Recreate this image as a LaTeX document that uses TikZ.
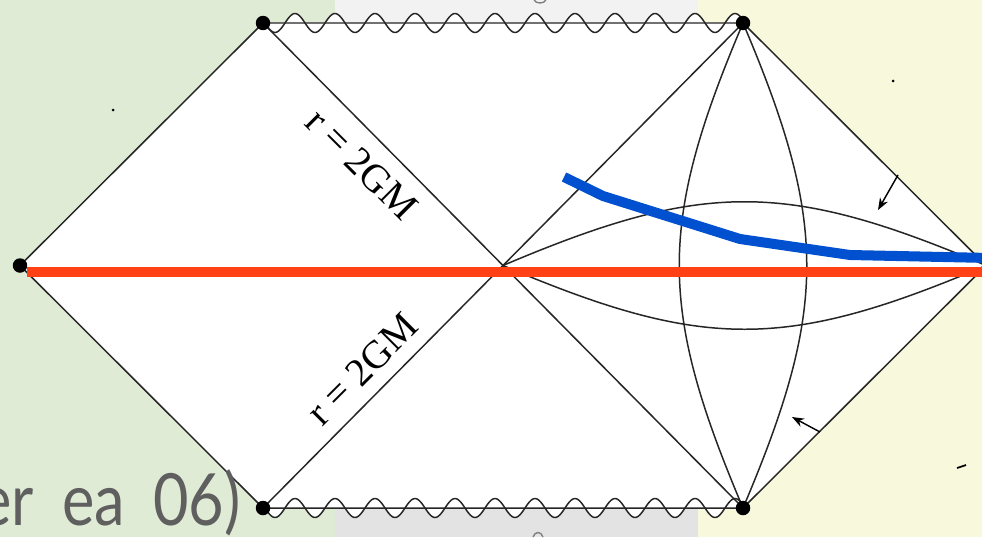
\documentclass[tikz,border=0pt]{standalone}
\usepackage{xcolor}
\usepackage{fontspec}
\setmainfont{Liberation Serif}
\newfontfamily\slidefont[FakeStretch=0.85, WordSpace=1.8]{Lato}
\usetikzlibrary{arrows.meta}

\definecolor{latarhijau}{HTML}{E0EBD5}
\definecolor{latarkuning}{HTML}{F8F8DC}
\definecolor{latarabu}{HTML}{F2F2F2}
\definecolor{latarabugelap}{HTML}{E3E3E3}
\definecolor{tekskutip}{HTML}{5F5F5F}
\definecolor{merah}{HTML}{FF4115}
\definecolor{biru}{HTML}{0050D0}

\begin{document}
\begin{tikzpicture}[
    x=0.02cm, y=-0.02cm,
    garis/.style={line width=0.85pt, black!85},
    gelombang/.style={garis, domain=263:743, samples=300},
    titik/.style={circle, fill=black, inner sep=0pt, minimum size=0.29cm},
    tanda/.style={font=\fontsize{22.5}{22.5}\selectfont, inner sep=0pt},
    kutip/.style={font=\slidefont\fontsize{41}{41}\selectfont, text=tekskutip, inner sep=0pt},
    panah/.style={-{Stealth[length=2.4mm, width=1.8mm]}, line width=0.8pt}
  ]
    \useasboundingbox (0,0) rectangle (982,537);
    \clip (0,0) rectangle (982,537);

    % slide background
    \fill[latarhijau] (0,0) rectangle (335,537);
    \fill[latarabu] (335,0) rectangle (698,268);
    \fill[latarabugelap] (335,268) rectangle (698,537);
    \fill[latarkuning] (698,0) rectangle (982,537);

    \coordinate (kiri) at (20,265.5);
    \coordinate (atasKiri) at (263,23);
    \coordinate (atasKanan) at (743,23);
    \coordinate (bawahKiri) at (263,508);
    \coordinate (bawahKanan) at (743,508);
    \coordinate (kanan) at (986,265.5);
    \coordinate (tengah) at (503,265.5);

    \fill[white] (kiri) -- (atasKiri) -- (atasKanan) -- (kanan) -- (bawahKanan) -- (bawahKiri) -- cycle;
    \fill[white] (atasKiri) -- plot[domain=263:743, samples=300] (\x, {23 - 9.5*sin(9*(\x-285))}) -- (atasKanan) -- cycle;
    \fill[white] (bawahKiri) -- plot[domain=263:743, samples=300] (\x, {508 - 9.5*sin(9*(\x-285))}) -- (bawahKanan) -- cycle;

    % outline and horizons
    \draw[garis] (kiri) -- (atasKiri) -- (atasKanan) -- (kanan) -- (bawahKanan) -- (bawahKiri) -- cycle;
    \draw[garis] (atasKiri) -- (bawahKanan);
    \draw[garis] (bawahKiri) -- (atasKanan);
    \draw[gelombang] plot (\x, {23 - 9.5*sin(9*(\x-285))});
    \draw[gelombang] plot (\x, {508 - 9.5*sin(9*(\x-285))});

    % lens in the right wedge
    \draw[garis] (tengah) .. controls (703,180.5) and (786,180.5) .. (kanan);
    \draw[garis] (tengah) .. controls (703,350.5) and (786,350.5) .. (kanan);
    \draw[garis] (atasKanan) .. controls (658,223) and (658,308) .. (bawahKanan);
    \draw[garis] (atasKanan) .. controls (828,223) and (828,308) .. (bawahKanan);

    \coordinate (pangkalA) at (898,175);
    \coordinate (ujungA) at (878,210);
    \coordinate (pangkalB) at (820,432);
    \coordinate (ujungB) at (792,417);
    \draw[panah] (pangkalA) -- (ujungA);
    \draw[panah] (pangkalB) -- (ujungB);

    \node[tanda, rotate=-45] (horizonAtas) at (362,164) {r = 2GM};
    \node[tanda, rotate=45] (horizonBawah) at (362,369) {r = 2GM};

    % overlays
    \draw[merah, line width=5.7pt] (27,272) -- (990,272);
    \draw[biru, line width=5.7pt, line join=round] (564,177) -- (603,196) -- (740,239) -- (850,255) -- (990,258);

    \foreach \p in {kiri, atasKiri, atasKanan, bawahKiri, bawahKanan}
      \node[titik] at (\p) {};

    \fill (113,110) circle (1.5);
    \fill (893,81) circle (1.5);
    \draw[line width=1pt] (957,468) -- (966,465);
    \draw[gray, line width=0.8pt] (534,0) .. controls (536,4) and (544,4) .. (546,0);
    \draw[gray, line width=0.8pt] (533,537) .. controls (535,531) and (541,531) .. (543,537);

    \node[kutip, anchor=base east] (kutipan) at (241,525) {er ea 06)};
  \end{tikzpicture}
\end{document}
